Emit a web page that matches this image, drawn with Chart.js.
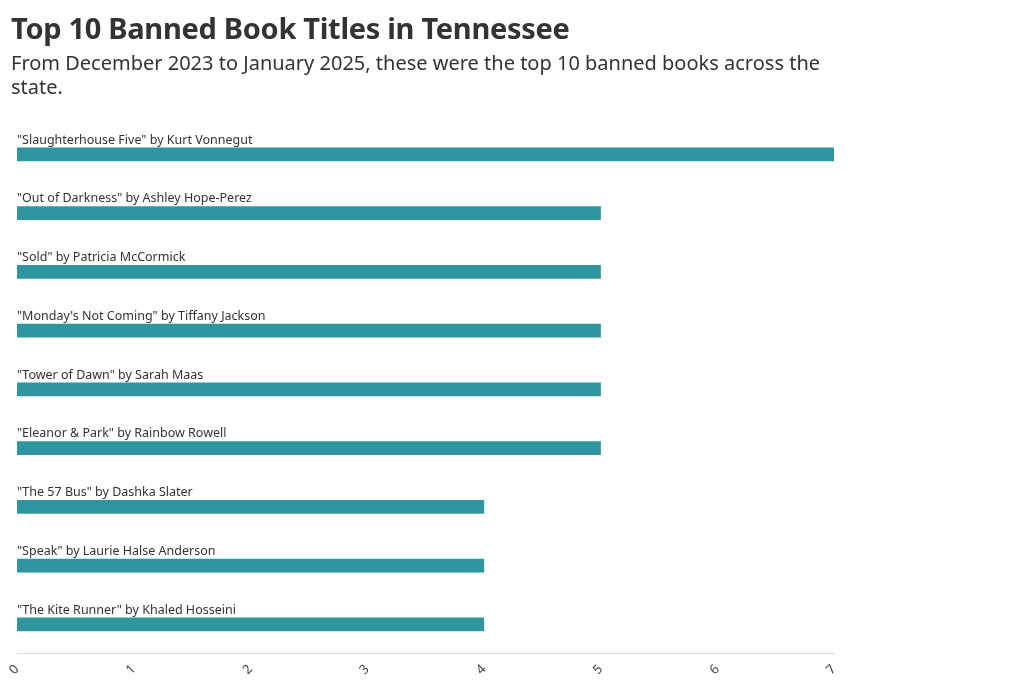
<!DOCTYPE html>
<html><head><meta charset="utf-8">
<script src="https://cdn.jsdelivr.net/npm/chart.js@4"></script>
<style>
body{margin:0;background:#fff;font-family:"Noto Sans",sans-serif;color:#333}
#t{position:absolute;left:11px;top:8px;font-size:29px;font-weight:bold;letter-spacing:-0.3px}
#s{position:absolute;left:11px;top:51px;font-size:20px;width:830px;line-height:24px}
#w{position:absolute;left:0;top:0;width:1020px;height:680px}
</style></head><body>
<div id="w"><canvas id="c" width="1020" height="680"></canvas></div>
<div id="t">Top 10 Banned Book Titles in Tennessee</div>
<div id="s">From December 2023 to January 2025, these were the top 10 banned books across the state.</div>
<script>
const titles=['"Slaughterhouse Five" by Kurt Vonnegut','"Out of Darkness" by Ashley Hope-Perez','"Sold" by Patricia McCormick','"Monday\'s Not Coming" by Tiffany Jackson','"Tower of Dawn" by Sarah Maas','"Eleanor & Park" by Rainbow Rowell','"The 57 Bus" by Dashka Slater','"Speak" by Laurie Halse Anderson','"The Kite Runner" by Khaled Hosseini'];
const counts=[7,5,5,5,5,5,4,4,4];
const ticks=[0,1,2,3,4,5,6,7];
const labelPlugin={id:'lbl',afterDatasetsDraw(ch){const ctx=ch.ctx;const meta=ch.getDatasetMeta(0);ctx.save();ctx.font='12.5px "Noto Sans"';ctx.fillStyle='#333';ctx.textBaseline='bottom';
meta.data.forEach((b,i)=>{ctx.fillText(titles[i],ch.chartArea.left,b.y-8);});ctx.restore();}};
new Chart(document.getElementById('c'),{type:'bar',data:{labels:titles,datasets:[{data:counts,backgroundColor:'#2f96a0',barThickness:13}]},
options:{indexAxis:'y',responsive:false,animation:false,layout:{padding:{top:125,left:17,right:186,bottom:0}},
plugins:{legend:{display:false},tooltip:{enabled:false}},
scales:{y:{display:false,offset:true},x:{min:0,max:7,afterBuildTicks(a){a.ticks=ticks.map(v=>({value:v}));},grid:{display:false,drawTicks:true,tickLength:6,color:'#ddd'},border:{color:'#ddd'},
ticks:{maxRotation:45,minRotation:45,color:'#444',font:{size:13,family:'"Noto Sans"'},padding:2}}}},plugins:[labelPlugin]});
</script></body></html>
